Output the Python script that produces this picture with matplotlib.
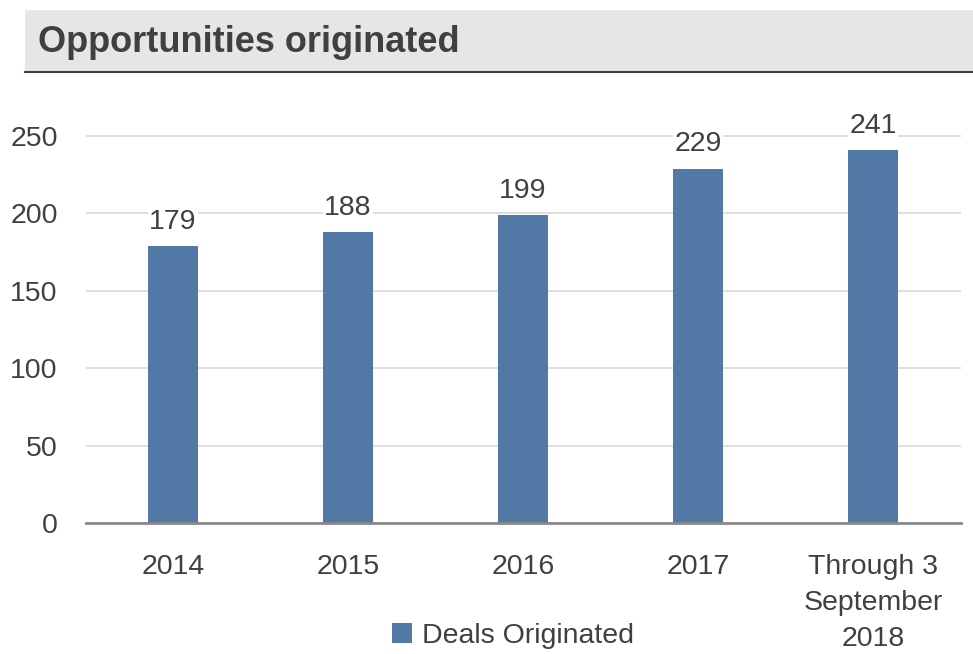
import matplotlib
matplotlib.use("Agg")
import matplotlib.pyplot as plt
from matplotlib.patches import Rectangle
from matplotlib.lines import Line2D

categories = ["2014", "2015", "2016", "2017", "Through 3\nSeptember\n2018"]
deals = [179, 188, 199, 229, 241]
yticks = [0, 50, 100, 150, 200, 250]
title = "Opportunities originated"
legend_label = "Deals Originated"

FONT = ["Liberation Sans Narrow", "Liberation Sans", "DejaVu Sans"]
plt.rcParams["font.family"] = FONT
TXT = "#404040"
BAR = "#5279A5"
FS = 20.5

fig = plt.figure(figsize=(9.73, 6.54), dpi=100)
W, H = 973, 654

# title banner
fig.patches.append(Rectangle((25 / W, 1 - 72 / H), 948 / W, 62 / H,
                             transform=fig.transFigure, facecolor="#E6E6E6",
                             edgecolor="none", zorder=0))
fig.lines.append(Line2D([25 / W, 1], [1 - 72 / H, 1 - 72 / H], transform=fig.transFigure,
                        color="#404040", linewidth=1.5))
fig.text(38 / W, 1 - 43 / H, title, fontsize=26, fontweight="bold", color=TXT,
         va="center", ha="left")

# axes: y=0 at pixel 523, y=250 at pixel 136
ax_bottom = 1 - 523 / H
px_per_unit = (523 - 136) / 250
ymax = 270
ax_height = ymax * px_per_unit / H
ax = fig.add_axes([85.5 / W, ax_bottom, 875 / W, ax_height])

x = range(len(categories))
bars = ax.bar(x, deals, width=0.29, color=BAR, zorder=2, label=legend_label)
ax.set_xlim(-0.5, 4.5)
ax.set_ylim(0, ymax)
ax.set_yticks(yticks)
ax.set_xticks(list(x))
ax.set_xticklabels(categories, fontsize=FS, color=TXT, linespacing=1.5)
ax.tick_params(axis="y", labelsize=FS, labelcolor=TXT, length=0, pad=20)
ax.tick_params(axis="x", length=0, pad=22)
ax.grid(axis="y", color="#D9D9D9", linewidth=1.2, zorder=0)
for s in ["top", "right", "left"]:
    ax.spines[s].set_visible(False)
ax.spines["bottom"].set_color("#898989")
ax.spines["bottom"].set_linewidth(2)
ax.spines["bottom"].set_zorder(3)

for xi, v in zip(x, deals):
    ax.annotate(str(v), (xi, v), xytext=(0, 8), textcoords="offset points",
                ha="center", va="bottom", fontsize=FS, color=TXT,
                bbox=dict(facecolor="white", edgecolor="none", pad=1), zorder=3)

leg = fig.legend(handles=[bars], labels=[legend_label], loc="center",
                 bbox_to_anchor=(513 / W, 1 - 636 / H), frameon=False,
                 fontsize=FS, handlelength=0.7, handleheight=0.7, handletextpad=0.35,
                 labelcolor=TXT)

fig.savefig("out.png", dpi=100)
